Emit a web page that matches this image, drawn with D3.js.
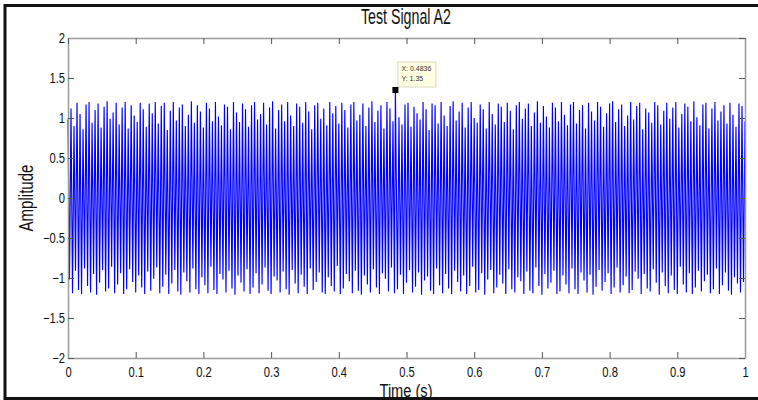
<!DOCTYPE html>
<html>
<head>
<meta charset="utf-8">
<script src="https://cdn.jsdelivr.net/npm/d3@7"></script>
<style>
  html, body { margin: 0; padding: 0; background: #fff; }
  svg { display: block; }
</style>
</head>
<body>
<svg id="chart" width="758" height="400"></svg>
<script>
// ---- data ----
const title = "Test Signal A2";
const xLabel = "Time (s)";
const yLabel = "Amplitude";
const xTicks = [0, 0.1, 0.2, 0.3, 0.4, 0.5, 0.6, 0.7, 0.8, 0.9, 1];
const yTicks = [-2, -1.5, -1, -0.5, 0, 0.5, 1, 1.5, 2];
const cycles = 225;
// local maxima of the signal, one per cycle (estimated)
const peaks = [
  0.98,1.12,0.90,1.19,1.05,0.86,1.17,1.20,0.94,1.10,1.18,0.88,1.14,1.21,0.99,
  1.07,1.19,0.92,1.13,1.20,0.87,1.16,1.03,0.95,1.19,1.11,0.89,1.18,1.06,1.20,
  0.93,1.15,1.19,0.85,1.09,1.20,0.97,1.13,1.17,0.90,1.04,1.21,0.94,1.16,1.08,
  0.88,1.19,1.12,0.96,1.20,1.02,0.91,1.17,1.14,0.86,1.20,1.07,0.95,1.18,1.11,
  0.89,1.16,1.20,0.98,1.05,1.19,0.92,1.13,1.21,0.87,1.10,1.17,0.96,1.20,1.03,
  0.90,1.18,1.14,0.94,1.20,1.08,0.86,1.16,1.19,0.99,1.12,0.91,1.20,1.06,1.15,
  0.93,1.19,1.10,0.88,1.17,1.20,0.97,1.04,1.18,0.90,1.13,1.21,0.95,1.09,1.16,
  0.87,1.20,1.12,0.96,1.35,1.01,0.92,1.17,1.19,0.89,1.14,1.06,0.98,1.20,1.11,
  0.85,1.18,1.16,0.93,1.20,1.03,0.90,1.15,1.21,0.97,1.08,1.19,0.88,1.13,1.20,
  1.00,0.94,1.17,1.11,0.87,1.20,1.05,0.92,1.18,1.14,0.95,1.19,1.09,0.86,1.16,
  1.20,0.99,1.12,1.18,0.90,1.07,1.21,0.94,1.15,1.02,0.88,1.19,1.13,0.96,1.20,
  1.04,0.91,1.17,1.20,0.93,1.10,1.16,0.87,1.19,1.08,0.97,1.20,1.14,0.89,1.06,
  1.18,1.21,0.95,1.11,1.17,0.90,1.03,1.20,0.98,1.15,1.19,0.86,1.12,1.07,0.94,
  1.20,1.16,0.92,1.09,1.19,0.99,1.13,1.20,0.88,1.05,1.18,1.14,0.96,1.21,1.01,
  0.91,1.17,1.19,0.87,1.12,1.20,0.97,1.08,1.16,0.93,1.19,1.04,0.89,1.18,1.15,
  0.96
];
// local minima of the signal, one per cycle (estimated)
const troughs = [
  -1.02,-1.19,-0.91,-1.15,-1.20,-0.88,-1.10,-1.18,-0.95,-1.21,-1.06,-0.90,-1.17,-1.13,-0.86,
  -1.19,-1.08,-0.94,-1.20,-1.14,-0.89,-1.05,-1.18,-0.97,-1.12,-1.20,-0.92,-1.16,-1.01,-0.87,
  -1.19,-1.11,-0.96,-1.20,-1.07,-0.90,-1.17,-1.21,-0.93,-1.04,-1.18,-0.88,-1.14,-1.20,-0.99,
  -1.09,-1.19,-0.86,-1.15,-1.20,-0.95,-1.02,-1.18,-0.91,-1.13,-1.21,-0.97,-1.06,-1.17,-0.89,
  -1.20,-1.12,-0.94,-1.19,-1.08,-0.87,-1.16,-1.20,-0.98,-1.03,-1.18,-0.92,-1.14,-1.21,-0.90,
  -1.07,-1.19,-0.96,-1.11,-1.20,-0.88,-1.15,-1.05,-0.93,-1.18,-1.20,-0.99,-1.10,-1.17,-0.85,
  -1.20,-1.13,-0.95,-1.04,-1.19,-0.91,-1.16,-1.21,-0.97,-1.08,-1.18,-0.89,-1.12,-1.20,-0.94,
  -1.01,-1.17,-0.87,-1.19,-1.14,-0.96,-1.20,-1.06,-0.90,-1.18,-1.11,-0.93,-1.21,-1.03,-0.98,
  -1.16,-1.20,-0.88,-1.09,-1.19,-0.95,-1.13,-1.20,-0.91,-1.05,-1.17,-0.97,-1.20,-1.10,-0.86,
  -1.18,-1.15,-0.94,-1.21,-1.02,-0.90,-1.19,-1.12,-0.96,-1.07,-1.20,-0.89,-1.14,-1.18,-0.99,
  -1.04,-1.20,-0.92,-1.16,-1.19,-0.87,-1.10,-1.21,-0.95,-1.13,-1.06,-0.91,-1.20,-1.17,-0.97,
  -1.08,-1.19,-0.88,-1.14,-1.20,-0.93,-1.03,-1.18,-0.96,-1.21,-1.11,-0.90,-1.16,-1.05,-0.94,
  -1.20,-1.12,-0.87,-1.18,-1.09,-0.98,-1.19,-1.15,-0.92,-1.01,-1.20,-0.95,-1.13,-1.17,-0.89,
  -1.06,-1.21,-0.93,-1.10,-1.19,-0.97,-1.15,-1.20,-0.86,-1.08,-1.18,-0.94,-1.20,-1.12,-0.91,
  -1.17,-1.04,-0.96,-1.19,-1.14,-0.88,-1.20,-1.09,-0.93,-1.16,-1.21,-0.99,-1.07,-1.18,-1.05
];
// data tip
const tipX = [0.4836];
const tipY = [1.35];

// ---- build the series (peak, trough alternating) ----
const series = [];
for (let i = 0; i < peaks.length; i++) {
  series.push({ t: i / cycles, v: peaks[i] });
  if (i < troughs.length) series.push({ t: (i + 0.5) / cycles, v: troughs[i] });
}
// place the data-tip sample exactly at its reported time
series.forEach(d => { if (d.v === tipY[0]) d.t = tipX[0]; });

// ---- layout ----
const svg = d3.select("#chart");
const L = 68, R = 745, T = 38, B = 358;
const x = d3.scaleLinear().domain([0, 1]).range([L, R]);
const y = d3.scaleLinear().domain([-2, 2]).range([B, T]);
const axisColor = "#9a9a9a";
const fontTick = "'Liberation Sans Narrow', 'Liberation Sans', Arial, sans-serif";

// outer black frame
svg.append("line").attr("x1", 5).attr("x2", 5).attr("y1", 4).attr("y2", 400)
  .attr("stroke", "#111").attr("stroke-width", 3);
svg.append("line").attr("x1", 4).attr("x2", 758).attr("y1", 5.5).attr("y2", 5.5)
  .attr("stroke", "#111").attr("stroke-width", 3);
svg.append("line").attr("x1", 4).attr("x2", 758).attr("y1", 398.5).attr("y2", 398.5)
  .attr("stroke", "#111").attr("stroke-width", 3);

// signal
svg.append("path")
  .datum(series)
  .attr("fill", "none")
  .attr("stroke", "#0000ff")
  .attr("stroke-width", 1.15)
  .attr("d", d3.line().x(d => x(d.t)).y(d => y(d.v)));

// axes
function styleAxis(g) {
  g.select(".domain").attr("stroke", axisColor).attr("stroke-width", 1.5);
  g.selectAll(".tick line").attr("stroke", "#555").attr("stroke-width", 1);
  g.selectAll("text").attr("fill", "#111")
    .style("font-family", fontTick).style("font-size", "14px");
}
const fmt = d => d3.format("")(d);

const gx = svg.append("g").attr("transform", `translate(0,${B})`)
  .call(d3.axisBottom(x).tickValues(xTicks).tickFormat(fmt).tickSize(-6).tickPadding(9).tickSizeOuter(0))
  .call(styleAxis);
gx.selectAll("text").attr("transform", "scale(0.8,1)");

const gy = svg.append("g").attr("transform", `translate(${L},0)`)
  .call(d3.axisLeft(y).tickValues(yTicks).tickFormat(fmt).tickSize(-6).tickPadding(3).tickSizeOuter(0))
  .call(styleAxis);
gy.selectAll("text").attr("x", -3 / 0.8).attr("transform", "scale(0.8,1)");

svg.append("g").attr("transform", `translate(0,${T})`)
  .call(d3.axisTop(x).tickValues(xTicks).tickFormat("").tickSize(-6).tickSizeOuter(0))
  .call(styleAxis);
svg.append("g").attr("transform", `translate(${R},0)`)
  .call(d3.axisRight(y).tickValues(yTicks).tickFormat("").tickSize(-6).tickSizeOuter(0))
  .call(styleAxis);

// titles
const fontTitle = "'Liberation Sans Narrow', 'Liberation Sans', Arial, sans-serif";
svg.append("text").attr("x", 406).attr("y", 24)
  .attr("text-anchor", "middle").attr("fill", "#111")
  .style("font-family", fontTitle).style("font-size", "22px")
  .attr("textLength", 90).attr("lengthAdjust", "spacingAndGlyphs")
  .text(title);
svg.append("text").attr("x", 406).attr("y", 397)
  .attr("text-anchor", "middle").attr("fill", "#111")
  .style("font-family", fontTitle).style("font-size", "18px")
  .attr("textLength", 53).attr("lengthAdjust", "spacingAndGlyphs")
  .text(xLabel);
svg.append("text")
  .attr("transform", "translate(33,198) rotate(-90)")
  .attr("text-anchor", "middle").attr("fill", "#111")
  .style("font-family", fontTitle).style("font-size", "20px")
  .attr("textLength", 67).attr("lengthAdjust", "spacingAndGlyphs")
  .text(yLabel);

// data tip
const tx = x(tipX[0]), ty = y(tipY[0]);
svg.append("rect").attr("x", tx + 2.5).attr("y", ty - 28)
  .attr("width", 38).attr("height", 25)
  .attr("fill", "#ffffe1").attr("stroke", "#d9d9c4").attr("stroke-width", 1);
svg.append("text").attr("x", tx + 6).attr("y", ty - 19)
  .attr("fill", "#333").style("font-family", "'Liberation Sans', Arial, sans-serif")
  .style("font-size", "7px").text("X: " + tipX[0]);
svg.append("text").attr("x", tx + 6).attr("y", ty - 9)
  .attr("fill", "#333").style("font-family", "'Liberation Sans', Arial, sans-serif")
  .style("font-size", "7px").text("Y: " + tipY[0]);
svg.append("rect").attr("x", tx - 3).attr("y", ty - 3).attr("width", 6).attr("height", 6)
  .attr("fill", "#000");
</script>
</body>
</html>
